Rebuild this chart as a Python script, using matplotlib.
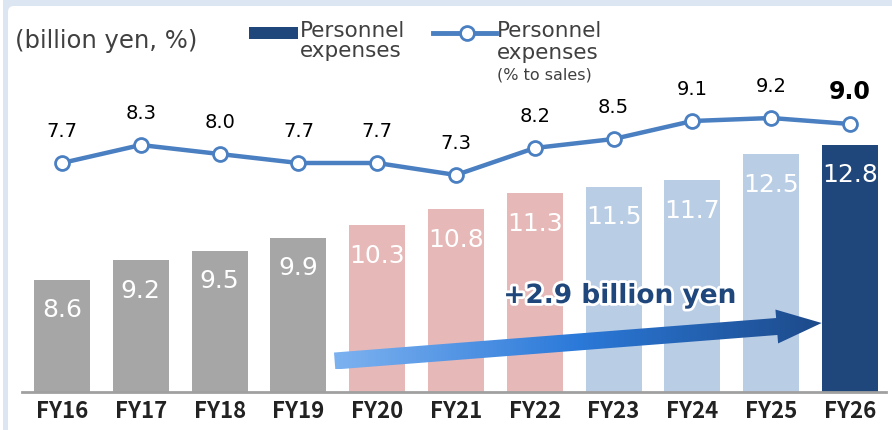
import numpy as np
import matplotlib
matplotlib.use("Agg")
import matplotlib.pyplot as plt
from matplotlib.patches import Polygon, FancyBboxPatch, Rectangle
from matplotlib.lines import Line2D
from matplotlib.colors import LinearSegmentedColormap
import matplotlib.patheffects as pe

years = ["FY16", "FY17", "FY18", "FY19", "FY20", "FY21", "FY22", "FY23", "FY24", "FY25", "FY26"]
expenses = [8.6, 9.2, 9.5, 9.9, 10.3, 10.8, 11.3, 11.5, 11.7, 12.5, 12.8]
pct_sales = [7.7, 8.3, 8.0, 7.7, 7.7, 7.3, 8.2, 8.5, 9.1, 9.2, 9.0]
bar_colors = ["#a6a6a6"] * 4 + ["#e6b9b8"] * 3 + ["#b9cde5"] * 3 + ["#1f477b"]

line_color = "#4a7fc1"
txt_font = ["Noto Sans CJK JP", "DejaVu Sans"]

W, H = 892, 430
fig = plt.figure(figsize=(W / 100, H / 100), dpi=100)
fig.patch.set_facecolor("white")

# light frame round the panel
bg = fig.add_axes([0, 0, 1, 1])
bg.set_xlim(0, W)
bg.set_ylim(H, 0)
bg.axis("off")
bg.add_patch(Rectangle((3, 0), W, H, color="#dce6f2", lw=0))
bg.add_patch(FancyBboxPatch((8, 6), W + 20, H + 20, boxstyle="round,pad=0,rounding_size=6",
                            fc="white", ec="none"))

# main axes: baseline at y=392 px
x_left, x_right, y_bot, y_top = 22, 886, 392, 10
ax = fig.add_axes([x_left / W, (H - y_bot) / H, (x_right - x_left) / W, (y_bot - y_top) / H])
ax.set_facecolor("none")
x = np.arange(len(years))
xlim = ((x_left - 62) / 78.8, (x_right - 62) / 78.8)
ylim = (5.1, 5.1 + (y_bot - y_top) / 32.1)
ax.set_xlim(*xlim)
ax.set_ylim(*ylim)

ax.bar(x, expenses, width=0.71, color=bar_colors, zorder=2)
for xi, v in zip(x, expenses):
    ax.annotate(f"{v:.1f}", (xi, v), xytext=(0, -22), textcoords="offset points",
                ha="center", va="center", color="white", fontsize=18, family="DejaVu Sans", zorder=3)

for s in ["top", "right", "left"]:
    ax.spines[s].set_visible(False)
ax.spines["bottom"].set_color("#a0a0a0")
ax.spines["bottom"].set_linewidth(2)
ax.set_yticks([])
ax.set_xticks(x)
ax.set_xticklabels(years, fontsize=16, family=txt_font, fontweight="bold", color="#222222")
ax.tick_params(axis="x", length=0, pad=6)

# gradient arrow
tail = ax.transData.transform((3.46, 5.1 + (392 - 361) / 32.1))
tip = ax.transData.transform((9.64, 5.1 + (392 - 323) / 32.1))
d = tip - tail
u = d / np.hypot(*d)
n = np.array([-u[1], u[0]])
sw, hw, hl = 8.5, 17, 45
base = tip - u * hl
pts_px = [tail + n * sw, base + n * sw, base + n * hw, tip, base - n * hw, base - n * sw, tail - n * sw]
pts = ax.transData.inverted().transform(pts_px)
arrow = Polygon(pts, closed=True, fc="none", ec="none", transform=ax.transData)
ax.add_patch(arrow)
cmap = LinearSegmentedColormap.from_list("arr", ["#7db2f0", "#2b79d9", "#1d4a8a"])
grad = np.linspace(0, 1, 256).reshape(1, -1)
im = ax.imshow(grad, cmap=cmap, aspect="auto", zorder=4,
               extent=[pts[:, 0].min(), pts[:, 0].max(), pts[:, 1].min(), pts[:, 1].max()])
im.set_clip_path(arrow)
ax.set_xlim(*xlim)
ax.set_ylim(*ylim)

ax.text(7.08, 5.1 + (392 - 296) / 32.1, "+2.9 billion yen", ha="center", va="center",
        fontsize=19, fontweight="bold", color="#1f477b", family="DejaVu Sans", zorder=5,
        path_effects=[pe.withStroke(linewidth=4, foreground="white")])

# percentage line on its own scale
ax2 = ax.twinx()
ax2.set_ylim(7.3 - (392 - 175) / 30, 7.3 + (175 - 10) / 30)
ax2.axis("off")
ax2.plot(x, pct_sales, color=line_color, lw=3.2, marker="o", ms=10,
         mfc="white", mec=line_color, mew=2, zorder=5)
for i, (xi, v) in enumerate(zip(x, pct_sales)):
    last = i == len(x) - 1
    ax2.annotate(f"{v:.1f}", (xi, v), xytext=(0, 23), textcoords="offset points",
                 ha="center", va="center", color="black", family="DejaVu Sans",
                 fontsize=17 if last else 14, fontweight="bold" if last else "normal")

# header / legend
tcol = "#404040"
hfont = "DejaVu Sans"
bg.text(15, 41, "(billion yen, %)", fontsize=17.5, family=hfont, color=tcol, va="center", ha="left")
bg.add_patch(Rectangle((249, 27), 49, 12, color="#1f477b", lw=0))
bg.text(300, 37, "Personnel", fontsize=15.5, family=hfont, color=tcol, va="baseline")
bg.text(300, 57, "expenses", fontsize=15.5, family=hfont, color=tcol, va="baseline")
bg.add_line(Line2D([433, 496], [33, 33], color=line_color, lw=3.5))
bg.plot([467], [33], marker="o", ms=10, mfc="white", mec=line_color, mew=2)
bg.text(497, 37, "Personnel", fontsize=15.5, family=hfont, color=tcol, va="baseline")
bg.text(497, 59, "expenses", fontsize=15.5, family=hfont, color=tcol, va="baseline")
bg.text(497, 80, "(% to sales)", fontsize=11.5, family=hfont, color=tcol, va="baseline")

fig.savefig("out.png", dpi=100)
